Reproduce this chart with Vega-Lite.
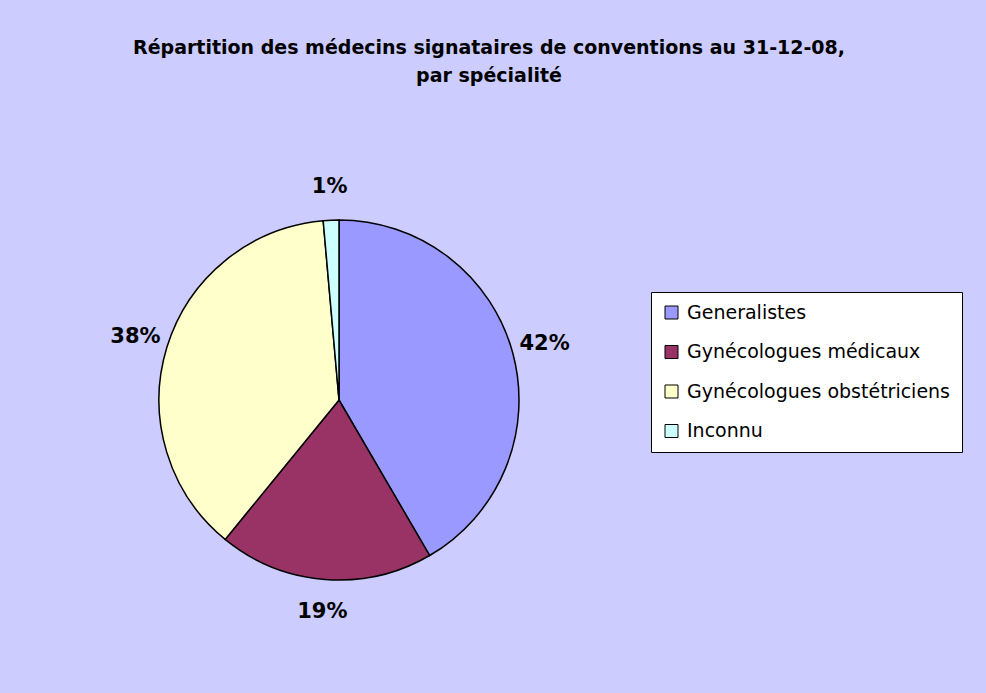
{
  "$schema": "https://vega.github.io/schema/vega-lite/v6.json",
  "width": 360,
  "height": 360,
  "autosize": {"type": "none"},
  "padding": {"left": 159, "top": 220, "right": 467, "bottom": 113},
  "background": "#CCCCFF",
  "title": {
    "text": ["Répartition des médecins signataires de conventions au 31-12-08,", "par spécialité"],
    "font": "DejaVu Sans",
    "fontSize": 19,
    "fontWeight": "bold",
    "color": "#000000",
    "anchor": "middle",
    "frame": "group",
    "dx": 150,
    "offset": 90,
    "lineHeight": 28
  },
  "data": {
    "values": [
      {"specialite": "Generalistes", "part": 0.416, "rang": 1},
      {"specialite": "Gynécologues médicaux", "part": 0.193, "rang": 2},
      {"specialite": "Gynécologues obstétriciens", "part": 0.377, "rang": 3},
      {"specialite": "Inconnu", "part": 0.014, "rang": 4}
    ]
  },
  "encoding": {
    "theta": {"field": "part", "type": "quantitative", "stack": true},
    "order": {"field": "rang", "type": "quantitative", "sort": "ascending"}
  },
  "layer": [
    {
      "mark": {"type": "arc", "outerRadius": 180, "stroke": "#000000", "strokeWidth": 1.5},
      "encoding": {
        "color": {
          "field": "specialite",
          "type": "nominal",
          "scale": {
            "domain": ["Generalistes", "Gynécologues médicaux", "Gynécologues obstétriciens", "Inconnu"],
            "range": ["#9999FF", "#993366", "#FFFFCC", "#CCFFFF"]
          },
          "legend": {
            "title": null,
            "orient": "none",
            "legendX": 492,
            "legendY": 72,
            "fillColor": "#FFFFFF",
            "strokeColor": "#000000",
            "padding": 11,
            "symbolType": "square",
            "symbolSize": 169,
            "symbolStrokeColor": "#000000",
            "symbolStrokeWidth": 1,
            "symbolOpacity": 1,
            "labelFont": "DejaVu Sans",
            "labelFontSize": 19,
            "labelColor": "#000000",
            "labelOffset": 6,
            "labelLimit": 400,
            "rowPadding": 19.5
          }
        }
      }
    },
    {
      "mark": {"type": "text", "radius": 213, "font": "DejaVu Sans", "fontSize": 21, "fontWeight": "bold", "color": "#000000", "align": "center", "baseline": "middle"},
      "encoding": {
        "detail": {"field": "specialite", "type": "nominal"},
        "text": {"field": "part", "type": "quantitative", "format": ".0%"}
      }
    }
  ],
  "config": {
    "view": {"stroke": null}
  }
}
